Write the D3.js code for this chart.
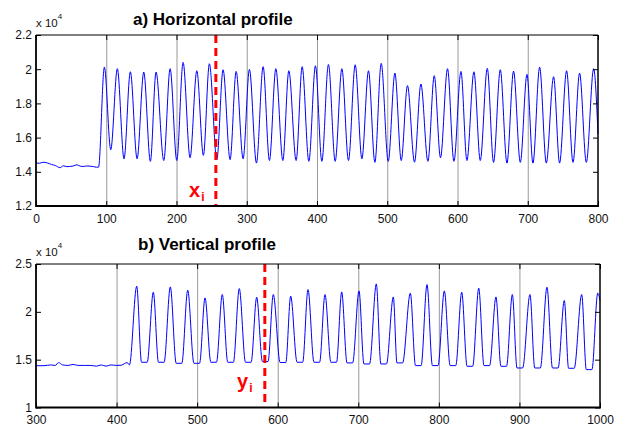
<!DOCTYPE html>
<html>
<head>
<meta charset="utf-8">
<script src="https://cdn.jsdelivr.net/npm/d3@7"></script>
<style>
  body { margin: 0; background: #fff; }
  svg { display: block; font-family: "Liberation Sans", Arial, sans-serif; }
</style>
</head>
<body>
<svg id="chart" width="620" height="432"></svg>
<script>
// ---- a) horizontal profile (values in units of 10^4) ----
const hFlatX = [0, 5, 10, 16, 22, 28, 34, 39, 44, 48, 53, 58, 63, 67, 72, 77, 82, 86, 89];
const hFlatY = [1.451, 1.45, 1.456, 1.452, 1.443, 1.436, 1.424, 1.435, 1.43, 1.431, 1.434, 1.441, 1.433, 1.431, 1.434, 1.433, 1.43, 1.427, 1.427];
const hPeakX = [97.3, 115.8, 134.3, 153.4, 170.9, 190.9, 209.4, 228.9, 246.8, 266.3, 284.9, 303.8, 323.3, 341.4, 359.9, 378.9, 397.8, 416.3, 435.4, 454.4, 473.3, 491.4, 510.9, 528.8, 547.9, 566.9, 585.8, 604.9, 623.4, 642.4, 660.9, 679.8, 698.9, 716.9, 736.8, 755.3, 773.8, 793.8];
const hPeakY = [2.012, 2.003, 1.985, 1.983, 1.983, 2.003, 2.04, 1.991, 2.032, 1.997, 1.987, 1.999, 2.015, 2.003, 1.991, 2.015, 2.02, 2.028, 2.003, 2.026, 1.991, 2.034, 1.977, 1.904, 1.913, 1.962, 2.003, 1.987, 1.985, 2.005, 1.997, 1.989, 1.970, 2.012, 1.956, 1.991, 1.977, 2.003];
const hTroughX = [106.4, 125.3, 143.9, 162.8, 181.9, 200.4, 219.3, 238.3, 257.4, 276.3, 294.8, 313.8, 332.3, 351.4, 370.3, 388.4, 406.9, 425.9, 444.8, 463.9, 482.4, 501.4, 519.9, 538.8, 557.9, 575.8, 594.9, 613.4, 632.4, 651.3, 670.4, 689.4, 707.4, 726.4, 745.3, 764.4, 783.4];
const hTroughY = [1.529, 1.476, 1.476, 1.461, 1.466, 1.466, 1.482, 1.496, 1.47, 1.471, 1.476, 1.451, 1.466, 1.466, 1.466, 1.461, 1.461, 1.461, 1.466, 1.476, 1.455, 1.461, 1.466, 1.456, 1.461, 1.482, 1.461, 1.466, 1.466, 1.455, 1.451, 1.455, 1.451, 1.451, 1.451, 1.455, 1.455];
const hEnd = [800, 1.62];
const hXTicks = [0, 100, 200, 300, 400, 500, 600, 700, 800];
const hGrid = [100, 200, 300, 400, 500, 600, 700];
const hYTicks = [1.2, 1.4, 1.6, 1.8, 2, 2.2];
const hYLabels = ['1.2', '1.4', '1.6', '1.8', '2', '2.2'];
const hMarker = 256;

// ---- b) vertical profile ----
const vFlatX = [300, 310, 318, 324, 328, 333, 340, 346, 352, 360, 368, 375, 381, 387, 393, 400, 406, 410, 413, 416];
const vFlatY = [1.437, 1.437, 1.445, 1.44, 1.47, 1.445, 1.44, 1.45, 1.44, 1.44, 1.44, 1.432, 1.445, 1.432, 1.445, 1.44, 1.442, 1.46, 1.47, 1.445];
const vPeakX = [425.0, 445.6, 466.7, 488.3, 509.8, 531.2, 552.3, 573.9, 594.5, 616.1, 637.6, 658.7, 679.4, 700.9, 722.4, 743.5, 764.6, 785.3, 806.8, 828.4, 849.5, 870.9, 891.2, 913.1, 934.2, 955.7, 977.3, 997.2];
const vPeakY = [2.268, 2.205, 2.261, 2.226, 2.146, 2.181, 2.243, 2.153, 2.181, 2.164, 2.233, 2.181, 2.208, 2.219, 2.292, 2.156, 2.195, 2.285, 2.219, 2.205, 2.247, 2.156, 2.181, 2.181, 2.257, 2.119, 2.181, 2.195];
const vTroughStartX = [431, 452, 474, 496, 517, 538, 560, 581, 603, 624, 645, 666, 686, 707, 728, 748, 771, 792, 814, 835, 856, 877, 897, 919, 941, 961, 983];
const vTroughEndX = [438, 459, 481, 503, 524, 545, 567, 588, 610, 631, 652, 673, 693, 714, 735, 755, 778, 799, 821, 842, 863, 884, 904, 926, 948, 968, 990];
const vTroughY = [1.473, 1.473, 1.462, 1.462, 1.473, 1.473, 1.473, 1.48, 1.47, 1.473, 1.473, 1.473, 1.466, 1.455, 1.455, 1.466, 1.438, 1.438, 1.438, 1.431, 1.438, 1.431, 1.413, 1.413, 1.413, 1.41, 1.396];
const vEnd = [1000, 2.12];
const vXTicks = [300, 400, 500, 600, 700, 800, 900, 1000];
const vGrid = [400, 500, 600, 700, 800, 900];
const vYTicks = [1, 1.5, 2, 2.5];
const vYLabels = ['1', '1.5', '2', '2.5'];
const vMarker = 584;

const FONT = '"Liberation Sans", Arial, sans-serif';
const svg = d3.select('#chart');

function zip(xs, ys) {
  return xs.map((x, i) => [x, ys[i]]);
}

const hPoints = [
  ...zip(hFlatX, hFlatY),
  ...zip(hPeakX, hPeakY),
  ...zip(hTroughX, hTroughY),
  hEnd,
].sort((a, b) => a[0] - b[0]);

const vPoints = [
  ...zip(vFlatX, vFlatY),
  ...zip(vPeakX, vPeakY),
  ...zip(vTroughStartX, vTroughY),
  ...zip(vTroughEndX, vTroughY),
  vEnd,
].sort((a, b) => a[0] - b[0]);

const panels = [
  {
    title: 'a) Horizontal profile', titleX: 133, titleY: 25,
    left: 36, right: 598, top: 35, bottom: 206,
    xDomain: [0, 800], yDomain: [1.2, 2.2],
    xTicks: hXTicks, grid: hGrid, yTicks: hYTicks, yLabels: hYLabels,
    points: hPoints, marker: hMarker,
    letter: 'x', letterX: 189, letterY: 197,
  },
  {
    title: 'b) Vertical profile', titleX: 138, titleY: 250,
    left: 36, right: 600, top: 264, bottom: 407.5,
    xDomain: [300, 1000], yDomain: [1, 2.5],
    xTicks: vXTicks, grid: vGrid, yTicks: vYTicks, yLabels: vYLabels,
    points: vPoints, marker: vMarker,
    letter: 'y', letterX: 237, letterY: 388,
  },
];

function styleAxis(sel) {
  sel.attr('font-family', FONT).attr('font-size', 12);
  sel.select('.domain').remove();
  sel.selectAll('.tick line').attr('stroke', '#000');
  sel.selectAll('.tick text').attr('fill', '#111');
}

function drawPanel(p) {
  const x = d3.scaleLinear().domain(p.xDomain).range([p.left, p.right]);
  const y = d3.scaleLinear().domain(p.yDomain).range([p.bottom, p.top]);
  const g = svg.append('g');
  const h = p.bottom - p.top;

  // vertical grid
  g.append('g')
    .attr('transform', `translate(0,${p.bottom})`)
    .call(d3.axisBottom(x).tickValues(p.grid).tickSize(-h).tickFormat(''))
    .call((s) => s.select('.domain').remove())
    .selectAll('line')
    .attr('stroke', '#9a9a9a')
    .attr('stroke-width', 1);

  // signal
  const line = d3.line()
    .x((d) => x(d[0]))
    .y((d) => y(d[1]))
    .curve(d3.curveMonotoneX);
  g.append('path')
    .datum(p.points)
    .attr('fill', 'none')
    .attr('stroke', '#0000ff')
    .attr('stroke-width', 1)
    .attr('d', line);

  // marker
  g.append('line')
    .attr('x1', x(p.marker)).attr('x2', x(p.marker))
    .attr('y1', p.top).attr('y2', p.bottom)
    .attr('stroke', '#ff0000')
    .attr('stroke-width', 3)
    .attr('stroke-dasharray', '8,5');

  // axes with inward ticks
  g.append('g')
    .attr('transform', `translate(0,${p.bottom})`)
    .call(d3.axisBottom(x).tickValues(p.xTicks).tickSize(-5).tickPadding(8).tickFormat(d3.format('d')))
    .call(styleAxis);
  g.append('g')
    .attr('transform', `translate(0,${p.top})`)
    .call(d3.axisTop(x).tickValues(p.xTicks).tickSize(-5).tickFormat(''))
    .call(styleAxis);
  g.append('g')
    .attr('transform', `translate(${p.left},0)`)
    .call(d3.axisLeft(y).tickValues(p.yTicks).tickSize(-5).tickPadding(4)
      .tickFormat((d, i) => p.yLabels[i]))
    .call(styleAxis);
  g.append('g')
    .attr('transform', `translate(${p.right},0)`)
    .call(d3.axisRight(y).tickValues(p.yTicks).tickSize(-5).tickFormat(''))
    .call(styleAxis);

  // box
  const box = [
    [p.left, p.top, p.right, p.top, 1],
    [p.right, p.top, p.right, p.bottom, 1.5],
    [p.left, p.top, p.left, p.bottom + 1, 1.8],
    [p.left, p.bottom, p.right + 1, p.bottom, 2],
  ];
  g.selectAll('line.box').data(box).join('line')
    .attr('class', 'box')
    .attr('x1', (d) => d[0]).attr('y1', (d) => d[1])
    .attr('x2', (d) => d[2]).attr('y2', (d) => d[3])
    .attr('stroke', '#000')
    .attr('stroke-width', (d) => d[4]);

  // exponent
  const ex = g.append('text')
    .attr('x', p.left)
    .attr('y', p.top - 8)
    .attr('font-family', FONT)
    .attr('font-size', 11.5)
    .attr('fill', '#111');
  ex.append('tspan').text('x 10');
  ex.append('tspan').attr('font-size', 8).attr('dy', -8).text('4');

  // title
  g.append('text')
    .attr('x', p.titleX)
    .attr('y', p.titleY)
    .attr('font-family', FONT)
    .attr('font-size', 17)
    .attr('font-weight', 'bold')
    .attr('fill', '#000')
    .text(p.title);

  // marker label
  const lab = g.append('text')
    .attr('x', p.letterX)
    .attr('y', p.letterY)
    .attr('font-family', FONT)
    .attr('font-weight', 'bold')
    .attr('font-size', 20)
    .attr('fill', '#ff0000');
  lab.append('tspan').text(p.letter);
  lab.append('tspan').attr('font-size', 12).attr('dy', 4).attr('dx', 1).text('i');
}

panels.forEach(drawPanel);
</script>
</body>
</html>
